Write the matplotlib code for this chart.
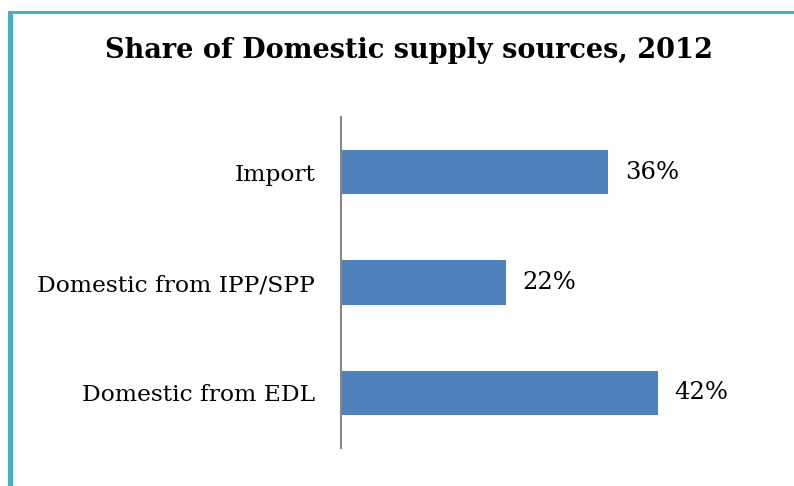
import matplotlib
matplotlib.use("Agg")
import matplotlib.pyplot as plt
from matplotlib.patches import Rectangle

categories = ["Domestic from EDL", "Domestic from IPP/SPP", "Import"]
shares = [0.423, 0.220, 0.357]
value_labels = ["42%", "22%", "36%"]
title = "Share of Domestic supply sources, 2012"

W, H = 794, 486
fig = plt.figure(figsize=(W / 100, H / 100), dpi=100)
fig.patch.set_facecolor("white")

border = "#4BACC6"
fig.add_artist(Rectangle((8 / W, 0), 5 / W, 1 - 11 / H, transform=fig.transFigure,
                         facecolor=border, edgecolor="none"))
fig.add_artist(Rectangle((8 / W, 1 - 14 / H), 1 - 8 / W, 3 / H, transform=fig.transFigure,
                         facecolor=border, edgecolor="none"))

left, right, top, bottom = 341, 711, 117, 448
ax = fig.add_axes([left / W, 1 - bottom / H, (right - left) / W, (bottom - top) / H])
ypos = list(range(len(categories)))
ax.barh(ypos, shares, height=0.4, color="#4F81BD", edgecolor="none")
ax.set_xlim(0, 0.494)
ax.set_ylim(-0.5, len(categories) - 0.5)
for s in ["top", "right", "bottom"]:
    ax.spines[s].set_visible(False)
ax.spines["left"].set_color("#878787")
ax.spines["left"].set_linewidth(1.5)
ax.set_xticks([])
ax.set_yticks(ypos)
ax.set_yticklabels(categories, fontfamily="DejaVu Serif", fontsize=16.8)
ax.tick_params(axis="y", length=0, pad=18.5)
for y, v, lab in zip(ypos, shares, value_labels):
    ax.annotate(lab, (v, y), xytext=(12, 0), textcoords="offset points",
                va="center", ha="left", fontfamily="DejaVu Serif", fontsize=17.5)

fig.text(408.5 / W, 1 - 50 / H, title, ha="center", va="center",
         fontfamily="DejaVu Serif", fontweight="bold", fontsize=19.5)

fig.savefig("out.png", dpi=100)
